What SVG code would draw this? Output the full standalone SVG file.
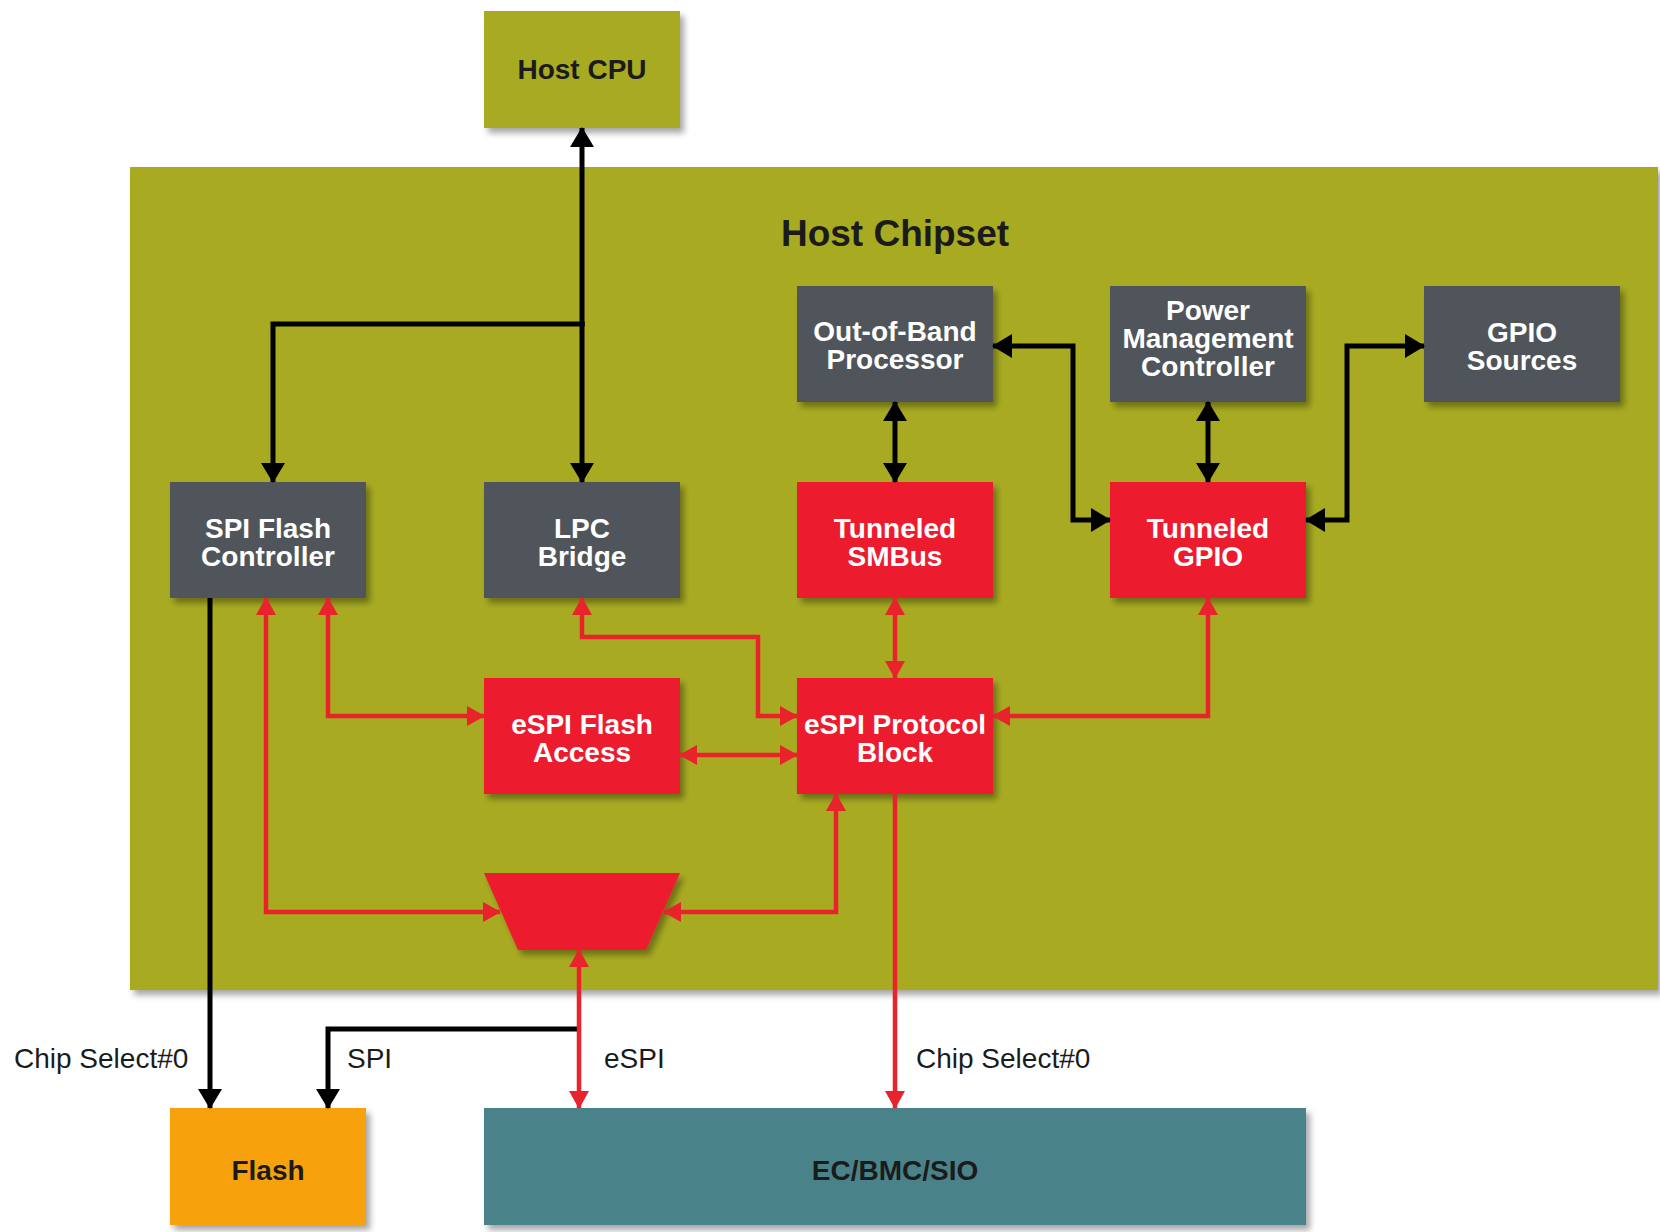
<svg xmlns="http://www.w3.org/2000/svg" width="1660" height="1232" viewBox="0 0 1660 1232">
  <defs>
    <filter id="shadow" x="-10%" y="-10%" width="130%" height="140%">
      <feDropShadow dx="4" dy="5" stdDeviation="3" flood-color="#000" flood-opacity="0.35"/>
    </filter>
    <marker id="ah-black" viewBox="0 0 20 24" refX="19" refY="12" markerWidth="20" markerHeight="24" markerUnits="userSpaceOnUse" orient="auto-start-reverse">
      <path d="M0,0 L20,12 L0,24 z" fill="#000"/>
    </marker>
    <marker id="ah-red" viewBox="0 0 18 20" refX="17" refY="10" markerWidth="18" markerHeight="20" markerUnits="userSpaceOnUse" orient="auto-start-reverse">
      <path d="M0,0 L18,10 L0,20 z" fill="#e8232b"/>
    </marker>
    <style>
      .box { filter: url(#shadow); }
      .olive { fill: #a8ab24; }
      .gray { fill: #50555a; }
      .red { fill: #ec1b2d; }
      .lbl { font-family: "Liberation Sans", Arial, sans-serif; font-weight: bold; font-size: 28px; text-anchor: middle; fill: #ffffff; }
      .dark { fill: #1b1b1b; }
      .note { font-family: "Liberation Sans", Arial, sans-serif; font-size: 28px; fill: #1b1b1b; }
      .blk { fill: none; stroke: #000; stroke-width: 5; }
      .blk.a { marker-end: url(#ah-black); }
      .blk.aa { marker-start: url(#ah-black); marker-end: url(#ah-black); }
      .rd { fill: none; stroke: #e8232b; stroke-width: 4.5; }
      .rd.a { marker-end: url(#ah-red); }
      .rd.aa { marker-start: url(#ah-red); marker-end: url(#ah-red); }
    </style>
  </defs>

  <rect width="1660" height="1232" fill="#ffffff"/>

  <!-- Host chipset region -->
  <g id="host-chipset">
    <rect class="box olive" x="130" y="167" width="1528" height="823"/>
    <text class="lbl dark" x="895" y="246" style="font-size:37px">Host Chipset</text>
  </g>

  <g id="host-cpu">
    <rect class="box olive" x="484" y="11" width="196" height="117"/>
    <text class="lbl dark" x="582" y="79">Host CPU</text>
  </g>

  <g id="spi-flash-controller">
    <rect class="box gray" x="170" y="482" width="196" height="116"/>
    <text class="lbl" x="268" y="538">SPI Flash</text>
    <text class="lbl" x="268" y="566">Controller</text>
  </g>

  <g id="lpc-bridge">
    <rect class="box gray" x="484" y="482" width="196" height="116"/>
    <text class="lbl" x="582" y="538">LPC</text>
    <text class="lbl" x="582" y="566">Bridge</text>
  </g>

  <g id="oob-processor">
    <rect class="box gray" x="797" y="286" width="196" height="116"/>
    <text class="lbl" x="895" y="341">Out-of-Band</text>
    <text class="lbl" x="895" y="369">Processor</text>
  </g>

  <g id="power-management-controller">
    <rect class="box gray" x="1110" y="286" width="196" height="116"/>
    <text class="lbl" x="1208" y="320">Power</text>
    <text class="lbl" x="1208" y="348">Management</text>
    <text class="lbl" x="1208" y="376">Controller</text>
  </g>

  <g id="gpio-sources">
    <rect class="box gray" x="1424" y="286" width="196" height="116"/>
    <text class="lbl" x="1522" y="342">GPIO</text>
    <text class="lbl" x="1522" y="370">Sources</text>
  </g>

  <g id="tunneled-smbus">
    <rect class="box red" x="797" y="482" width="196" height="116"/>
    <text class="lbl" x="895" y="538">Tunneled</text>
    <text class="lbl" x="895" y="566">SMBus</text>
  </g>

  <g id="tunneled-gpio">
    <rect class="box red" x="1110" y="482" width="196" height="116"/>
    <text class="lbl" x="1208" y="538">Tunneled</text>
    <text class="lbl" x="1208" y="566">GPIO</text>
  </g>

  <g id="espi-flash-access">
    <rect class="box red" x="484" y="678" width="196" height="116"/>
    <text class="lbl" x="582" y="734">eSPI Flash</text>
    <text class="lbl" x="582" y="762">Access</text>
  </g>

  <g id="espi-protocol-block">
    <rect class="box red" x="797" y="678" width="196" height="116"/>
    <text class="lbl" x="895" y="734">eSPI Protocol</text>
    <text class="lbl" x="895" y="762">Block</text>
  </g>

  <g id="mux">
    <polygon class="box red" points="484,873 680,873 646,950 518,950"/>
  </g>

  <g id="flash">
    <rect class="box" x="170" y="1108" width="196" height="117" fill="#f7a20f"/>
    <text class="lbl dark" x="268" y="1180">Flash</text>
  </g>

  <g id="ec-bmc-sio">
    <rect class="box" x="484" y="1108" width="822" height="117" fill="#4a8389"/>
    <text class="lbl dark" x="895" y="1180">EC/BMC/SIO</text>
  </g>

  <!-- Connectors -->
  <g id="connectors">
    <!-- host bus fan-out -->
    <path class="blk a" d="M582,326 L582,128"/>
    <path class="blk a" d="M582,322 L582,482"/>
    <path class="blk a" d="M584.5,324 L273,324 L273,482"/>
    <!-- sideband links -->
    <path class="blk aa" d="M895,402 L895,482"/>
    <path class="blk aa" d="M1208,402 L1208,482"/>
    <path class="blk aa" d="M993,346 L1073,346 L1073,520 L1110,520"/>
    <path class="blk aa" d="M1306,520 L1347,520 L1347,346 L1424,346"/>
    <!-- flash side -->
    <path class="blk a" d="M210,598 L210,1108"/>
    <path class="blk a" d="M579,1029 L328,1029 L328,1108"/>

    <!-- eSPI internal links -->
    <path class="rd aa" d="M266,598 L266,912 L500,912"/>
    <path class="rd aa" d="M328,598 L328,716 L484,716"/>
    <path class="rd aa" d="M582,598 L582,637 L758,637 L758,716 L797,716"/>
    <path class="rd aa" d="M680,755 L797,755"/>
    <path class="rd aa" d="M895,598 L895,678"/>
    <path class="rd aa" d="M1208,598 L1208,716 L993,716"/>
    <path class="rd aa" d="M836,794 L836,912 L664,912"/>
    <path class="rd aa" d="M579,950 L579,1108"/>
    <path class="rd a" d="M895,794 L895,1108"/>
  </g>

  <!-- Link labels -->
  <g id="link-labels">
    <text class="note" x="14" y="1068">Chip Select#0</text>
    <text class="note" x="347" y="1068">SPI</text>
    <text class="note" x="604" y="1068">eSPI</text>
    <text class="note" x="916" y="1068">Chip Select#0</text>
  </g>
</svg>
